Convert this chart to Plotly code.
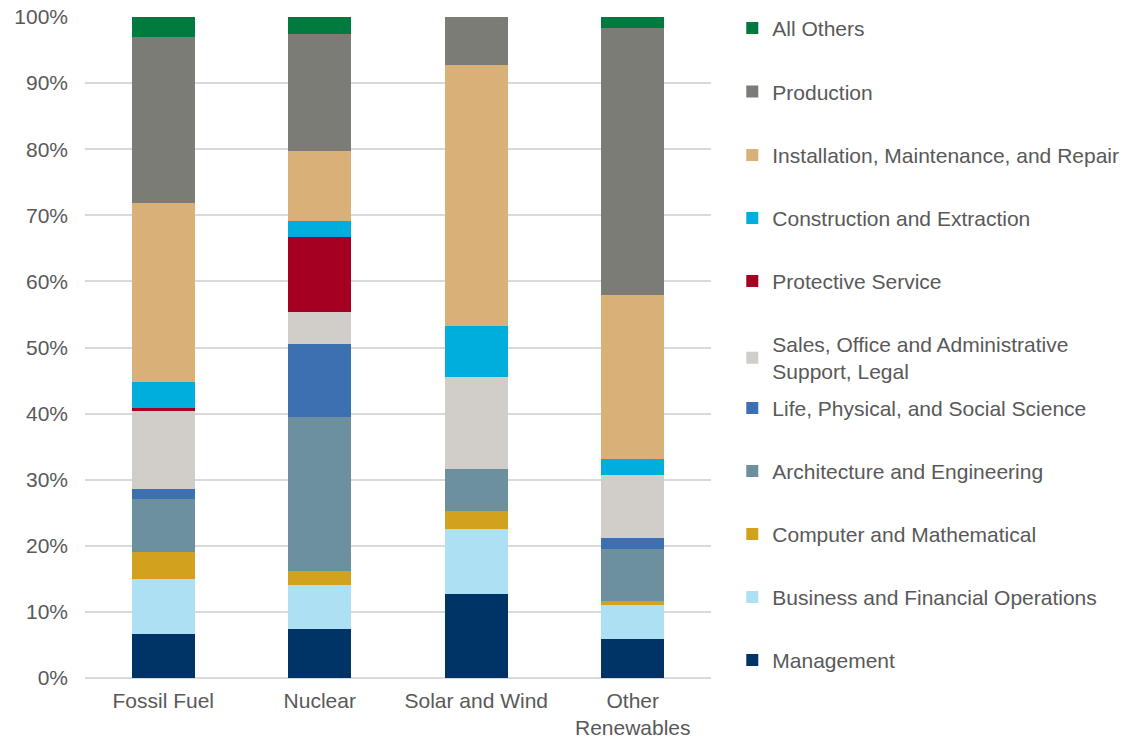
import plotly.graph_objects as go

categories = ["Fossil Fuel", "Nuclear", "Solar and Wind", "Other<br>Renewables"]

# share of jobs by occupation, percent (bottom of the stack first)
management = [6.7, 7.4, 12.7, 5.9]
business_financial = [8.3, 6.6, 9.9, 5.1]
computer_math = [4.0, 2.2, 2.7, 0.6]
architecture_eng = [8.1, 23.3, 6.3, 7.9]
life_science = [1.5, 11.1, 0.0, 1.7]
sales_office = [11.8, 4.8, 14.0, 9.5]
protective = [0.4, 11.3, 0.0, 0.0]
construction = [4.0, 2.4, 7.7, 2.5]
installation = [27.1, 10.7, 39.4, 24.8]
production = [25.0, 17.7, 7.3, 40.3]
all_others = [3.1, 2.5, 0.0, 1.7]

# (name, values, colour, legend box)
series = [
    ("Management", management, "#003366", "legend3"),
    ("Business and Financial Operations", business_financial, "#AEE0F3", "legend3"),
    ("Computer and Mathematical", computer_math, "#D2A21F", "legend3"),
    ("Architecture and Engineering", architecture_eng, "#6D909F", "legend3"),
    ("Life, Physical, and Social Science", life_science, "#3C70B0", "legend3"),
    ("Sales, Office and Administrative<br>Support, Legal", sales_office, "#D1CEC9", "legend2"),
    ("Protective Service", protective, "#A50021", "legend2"),
    ("Construction and Extraction", construction, "#00AEDD", "legend2"),
    ("Installation, Maintenance, and Repair", installation, "#D9B178", "legend"),
    ("Production", production, "#7B7C75", "legend"),
    ("All Others", all_others, "#007A3E", "legend"),
]

font_family = "Arial, Liberation Sans, sans-serif"
text_color = "#595959"
font_size = 21

fig = go.Figure()
for index, (name, values, color, legend_id) in enumerate(series):
    fig.add_trace(
        go.Bar(
            x=categories,
            y=values,
            name=name,
            legend=legend_id,
            legendgroup=name,
            legendrank=1000 - index,
            marker={"color": color, "line": {"width": 0}},
        )
    )


def legend_box(y, gap):
    return {
        "traceorder": "grouped",
        "tracegroupgap": gap,
        "x": 1.034,
        "xanchor": "left",
        "y": y,
        "yanchor": "top",
        "font": {"size": font_size, "color": text_color},
        "bgcolor": "rgba(0,0,0,0)",
    }


fig.update_layout(
    barmode="stack",
    bargap=0.6,
    width=1132,
    height=738,
    margin={"l": 85, "r": 421, "t": 17, "b": 60, "autoexpand": False},
    plot_bgcolor="white",
    paper_bgcolor="white",
    font={"family": font_family, "size": font_size, "color": text_color},
    showlegend=True,
    legend=legend_box(1.0138, 33.2),
    legend2=legend_box(0.7264, 32.7),
    legend3=legend_box(0.4390, 32.7),
    xaxis={
        "showgrid": False,
        "showline": False,
        "ticks": "",
        "ticklabelstandoff": 8,
        "ticklabeloverflow": "allow",
        "tickfont": {"size": font_size},
    },
    yaxis={
        "range": [0, 100],
        "dtick": 10,
        "ticksuffix": "%",
        "showgrid": True,
        "gridcolor": "#D9D9D9",
        "gridwidth": 1.5,
        "zeroline": True,
        "zerolinecolor": "#D9D9D9",
        "zerolinewidth": 1.5,
        "showline": False,
        "ticks": "",
        "ticklabelstandoff": 16,
        "ticklabeloverflow": "allow",
        "tickfont": {"size": font_size},
    },
)

# drop the default 8px body margin so the figure fills the window exactly
fig.write_html(
    "out.html",
    config={"displayModeBar": False},
    post_script="document.body.style.margin = '0';",
)
